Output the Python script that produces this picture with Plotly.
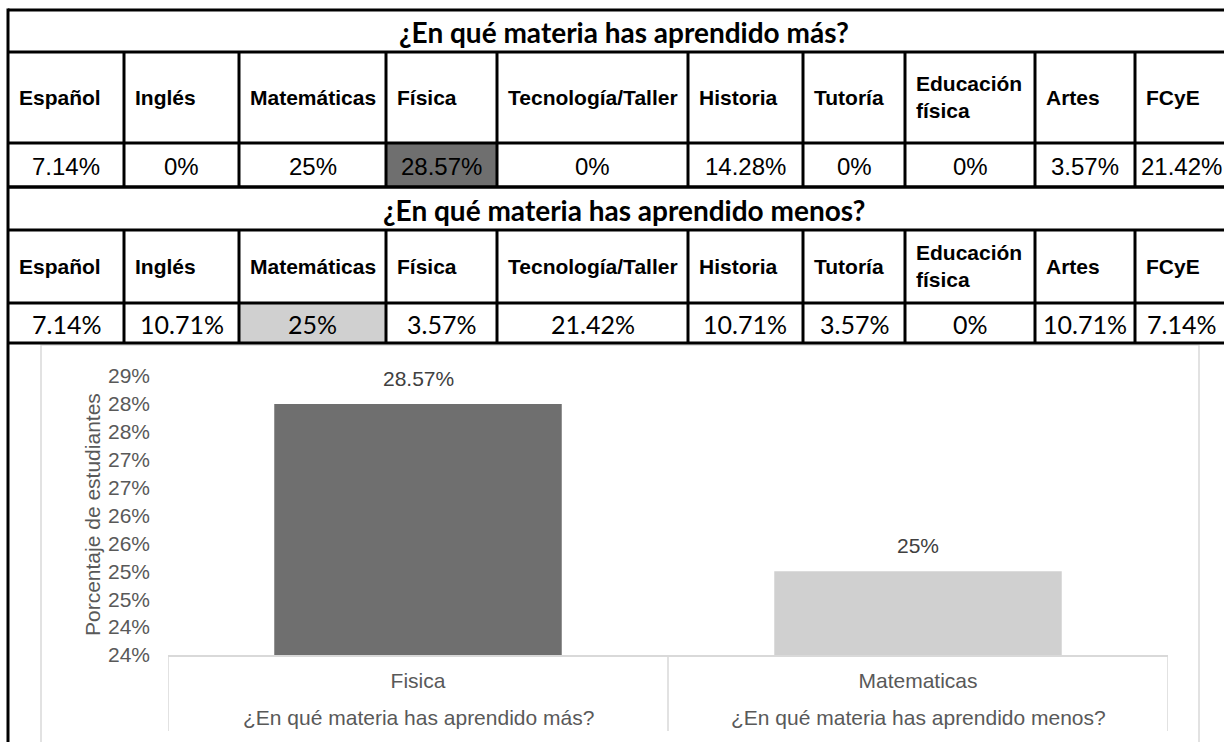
import plotly.graph_objects as go

W, H = 1224, 742

# ---------------- data ----------------
subjects = ["Español", "Inglés", "Matemáticas", "Física", "Tecnología/Taller",
            "Historia", "Tutoría", "Educación física", "Artes", "FCyE"]
mas_pct = [7.14, 0, 25, 28.57, 0, 14.28, 0, 0, 3.57, 21.42]
menos_pct = [7.14, 10.71, 25, 3.57, 21.42, 10.71, 3.57, 0, 10.71, 7.14]
title_mas = "¿En qué materia has aprendido más?"
title_menos = "¿En qué materia has aprendido menos?"

chart_subjects = ["Fisica", "Matematicas"]
chart_questions = [title_mas, title_menos]
chart_values = [0.2825, 0.2525]          # bar heights as read on the value axis
chart_labels = ["28.57%", "25%"]
y_axis_title = "Porcentaje de estudiantes"

# ---------------- styles / layout constants ----------------
DARK = "#6f6f6f"
LIGHT = "#d0d0d0"
GRID = "#d9d9d9"
TXT = "#595959"
ARIAL = "Arial, Liberation Sans, sans-serif"
col_edges = [8, 124, 239, 386, 497, 688, 803, 905, 1035, 1135, 1228]
t1 = dict(top=10, title_b=52, head_b=143, val_b=187)
t2 = dict(top=187, title_b=230, head_b=303, val_b=343)
LW = 3


def px(x):
    return x / W


def py(y):
    return 1 - y / H


def fmt(v):
    return f"{v:g}%"


shapes = []
annotations = []


def hline(y, x0, x1, color="black", w=LW):
    shapes.append(dict(type="line", xref="paper", yref="paper", x0=px(x0), x1=px(x1),
                       y0=py(y), y1=py(y), line=dict(color=color, width=w)))


def vline(x, y0, y1, color="black", w=LW):
    shapes.append(dict(type="line", xref="paper", yref="paper", x0=px(x), x1=px(x),
                       y0=py(y0), y1=py(y1), line=dict(color=color, width=w)))


def text(x, y, s, size, family, color="black", xanchor="center", bold=False, align="center"):
    annotations.append(dict(xref="paper", yref="paper", x=px(x), y=py(y),
                            text=(f"<b>{s}</b>" if bold else s), align=align,
                            showarrow=False, xanchor=xanchor, yanchor="middle",
                            font=dict(size=size, family=family, color=color)))


def draw_table(rows, title, values, highlight_color, val_family, val_size):
    hi = values.index(max(values))
    shapes.append(dict(type="rect", xref="paper", yref="paper", layer="below",
                       x0=px(col_edges[hi]), x1=px(col_edges[hi + 1]),
                       y0=py(rows["head_b"]), y1=py(rows["val_b"]),
                       fillcolor=highlight_color, line=dict(width=0)))
    text(624, (rows["top"] + rows["title_b"]) / 2 + 1, title, 28, "Lato", bold=True)
    for i, name in enumerate(subjects):
        x0, x1 = col_edges[i], col_edges[i + 1]
        label = name.replace(" ", "<br>") if " " in name else name
        text(x0 + 9, (rows["title_b"] + rows["head_b"]) / 2, label, 21, ARIAL,
             xanchor="left", bold=True, align="left")
        text((x0 + x1) / 2, (rows["head_b"] + rows["val_b"]) / 2 + 1, fmt(values[i]),
             val_size, val_family)
    for yb in (rows["top"], rows["title_b"], rows["head_b"], rows["val_b"]):
        hline(yb, 8, W + 10)
    for x in col_edges[1:-1]:
        vline(x, rows["title_b"], rows["val_b"])


draw_table(t1, title_mas, mas_pct, DARK, ARIAL, 24)
draw_table(t2, title_menos, menos_pct, LIGHT, "Lato", 25)
vline(8, 8.5, 742)

# chart area border
shapes.append(dict(type="rect", xref="paper", yref="paper", layer="below",
                   x0=px(41), x1=px(1199), y0=py(760), y1=py(345),
                   line=dict(color=GRID, width=1.5)))

# ---------------- chart ----------------
fig = go.Figure(go.Bar(
    x=chart_subjects,
    y=chart_values,
    marker=dict(color=[DARK, LIGHT], line=dict(width=0)),
    width=0.575,
    hoverinfo="skip",
))

# category box dividers (at category boundaries) and outer-level labels
for k in range(len(chart_subjects) + 1):
    shapes.append(dict(type="line", xref="x", yref="paper", x0=k - 0.5, x1=k - 0.5,
                       y0=py(655), y1=py(731), line=dict(color=GRID, width=1.5)))
for i, q in enumerate(chart_questions):
    annotations.append(dict(xref="x", yref="paper", x=i, y=py(717), text=q, showarrow=False,
                            xanchor="center", yanchor="middle",
                            font=dict(size=21, family=ARIAL, color=TXT)))

for i, (v, lab) in enumerate(zip(chart_values, chart_labels)):
    annotations.append(dict(xref="x", yref="y", x=i, y=v, text=lab, showarrow=False,
                            yanchor="bottom", yshift=12,
                            font=dict(size=21, family=ARIAL, color="#404040")))

annotations.append(dict(xref="paper", yref="paper", x=px(92), y=py(515), text=y_axis_title,
                        textangle=-90, showarrow=False, xanchor="center", yanchor="middle",
                        font=dict(size=21, family=ARIAL, color=TXT)))

fig.update_layout(
    width=W, height=H,
    margin=dict(l=0, r=0, t=0, b=0, pad=0),
    paper_bgcolor="white", plot_bgcolor="white",
    showlegend=False,
    shapes=shapes,
    annotations=annotations,
    xaxis=dict(domain=[px(168), px(1168)], type="category", automargin=False,
               range=[-0.5, len(chart_subjects) - 0.5],
               showline=True, linecolor=GRID, linewidth=1.5,
               showgrid=False, ticks="", ticklabelstandoff=6,
               tickfont=dict(size=21, family=ARIAL, color=TXT)),
    yaxis=dict(domain=[py(655), py(376)], range=[0.2375, 0.2875], automargin=False,
               tick0=0.2375, dtick=0.005, tickformat=".0%",
               showgrid=False, zeroline=False, showline=False, ticks="",
               ticklabelstandoff=17,
               tickfont=dict(size=21, family=ARIAL, color=TXT)),
)

fig.write_html("out.html", config={"displayModeBar": False},
               post_script="document.body.style.margin='0';document.body.style.overflow='hidden';")
